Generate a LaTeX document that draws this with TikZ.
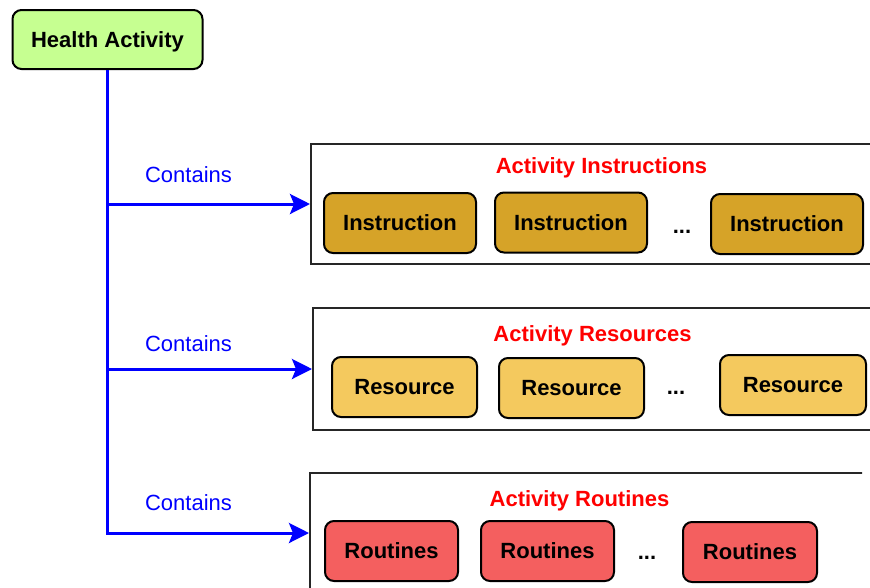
\documentclass[tikz,border=0pt]{standalone}
\usepackage{fontspec}
\setmainfont{Liberation Sans}
\usetikzlibrary{arrows.meta}

\definecolor{hgreen}{HTML}{C6FF91}
\definecolor{instr}{HTML}{D6A328}
\definecolor{resrc}{HTML}{F4C95E}
\definecolor{routn}{HTML}{F45F5F}

\begin{document}
\begin{tikzpicture}[x=1pt,y=-1pt,
  every node/.style={font=\fontsize{22}{26}\selectfont, text height=15.8pt, text depth=0pt, inner sep=0pt},
  item/.style={draw=black, line width=2pt, rounded corners=9pt,
    font=\fontsize{22}{26}\selectfont\bfseries, minimum height=60pt},
  frame/.style={draw=black!85, line width=2pt, fill=white, anchor=north west},
  ttl/.style={text=red, font=\fontsize{22}{26}\selectfont\bfseries},
  lbl/.style={text=blue},
  dots/.style={font=\fontsize{22}{26}\selectfont\bfseries},
  link/.style={draw=blue, line width=3pt},
  arr/.style={link, -{Stealth[length=20pt,width=20pt,inset=4pt]}}
]
\useasboundingbox (0,0) rectangle (870,587);
\clip (0,0) rectangle (870,587);

% root
\node[item, fill=hgreen, minimum width=190pt, minimum height=59pt] (ha) at (107.5,39.5) {Health Activity};

% group frames
\node[frame, minimum width=580pt, minimum height=120pt] (c1) at (310,143) {};
\node[frame, minimum width=580pt, minimum height=122pt] (c2) at (312,307) {};
\begin{scope}
  \clip (0,0) rectangle (862,587);
  \node[frame, minimum width=580pt, minimum height=120pt] (c3) at (309,472) {};
\end{scope}

% group titles
\node[ttl] (t1) at (601.5,166) {Activity Instructions};
\node[ttl] (t2) at (592.5,334) {Activity Resources};
\node[ttl] (t3) at (579.5,499) {Activity Routines};

% instructions
\node[item, fill=instr, minimum width=152pt] (i1) at (400,223) {Instruction};
\node[item, fill=instr, minimum width=152pt] (i2) at (571,222.5) {Instruction};
\node[dots] (d1) at (682,226) {...};
\node[item, fill=instr, minimum width=152pt] (i3) at (787,224) {Instruction};

% resources
\node[item, fill=resrc, minimum width=145pt] (r1) at (404.5,387) {Resource};
\node[item, fill=resrc, minimum width=145pt] (r2) at (571.5,388) {Resource};
\node[dots] (d2) at (676,387) {...};
\node[item, fill=resrc, minimum width=146pt] (r3) at (793,385) {Resource};

% routines
\node[item, fill=routn, minimum width=133pt] (q1) at (391.5,551) {Routines};
\node[item, fill=routn, minimum width=133pt] (q2) at (547.5,551) {Routines};
\node[dots] (d3) at (647,552) {...};
\node[item, fill=routn, minimum width=134pt] (q3) at (750,552) {Routines};

% connectors
\draw[arr] (ha.south) |- (c3.west);
\draw[arr] (ha.south |- c1.west) -- (c1.west);
\draw[arr] (ha.south |- c2.west) -- (c2.west);

% connector labels
\node[lbl] (l1) at (188.5,175) {Contains};
\node[lbl] (l2) at (188.5,344) {Contains};
\node[lbl] (l3) at (188.5,503) {Contains};
\end{tikzpicture}
\end{document}
